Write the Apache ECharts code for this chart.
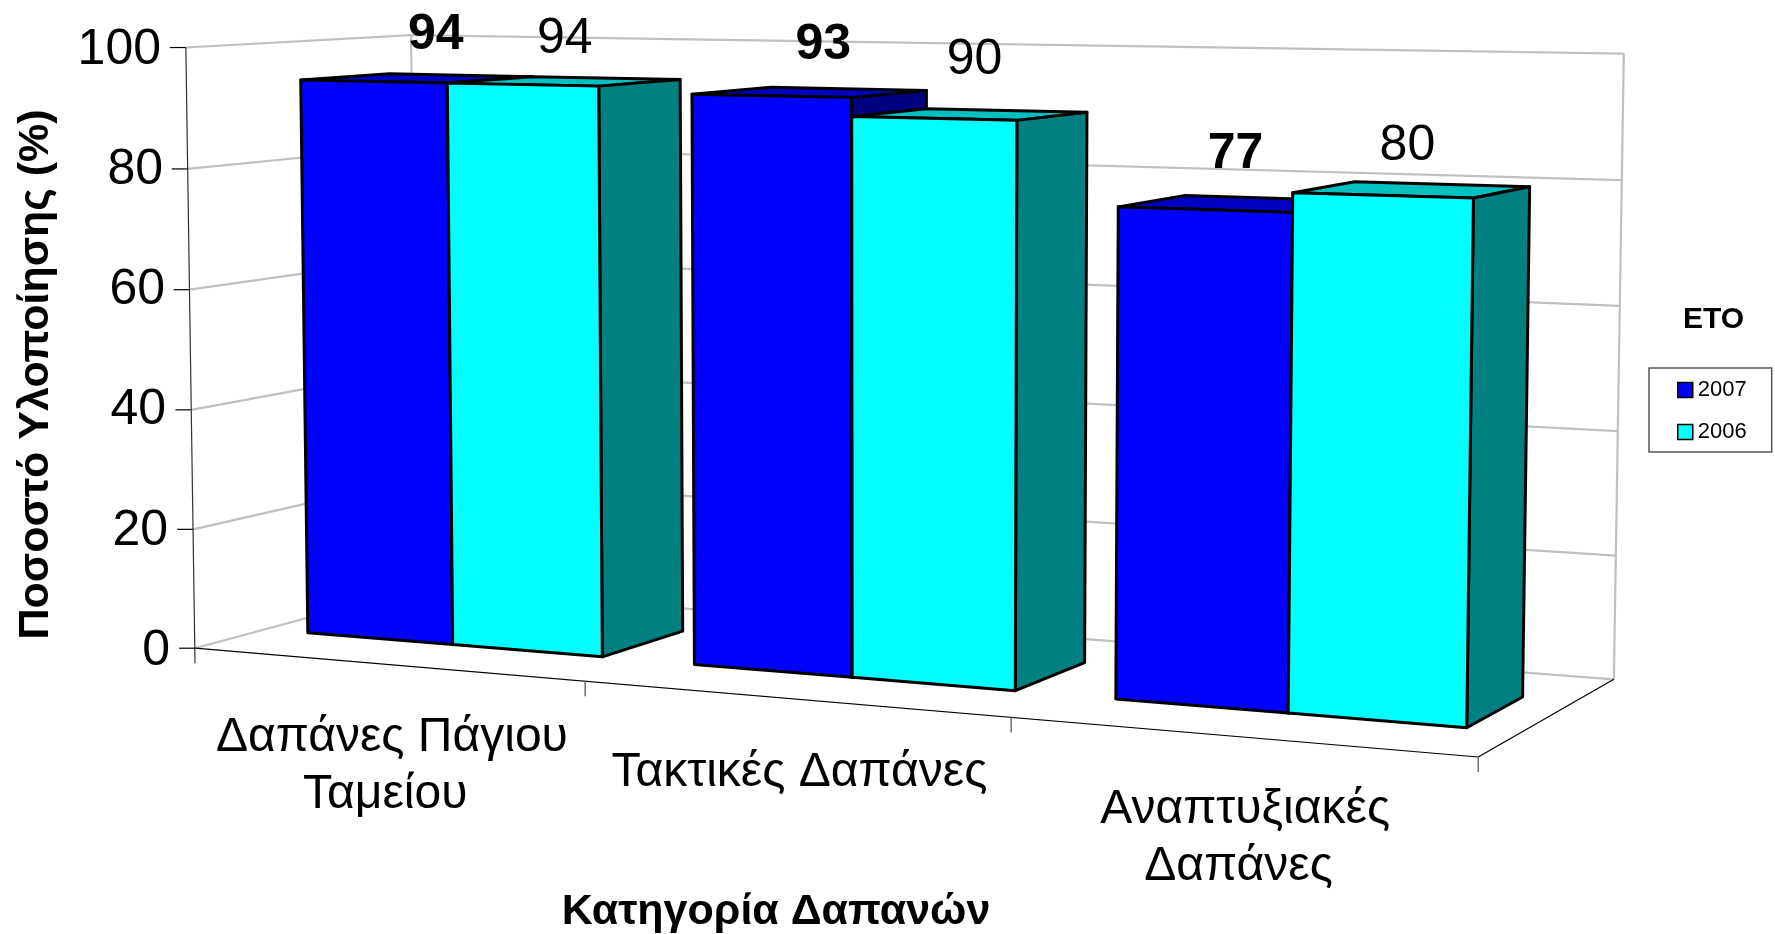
<!DOCTYPE html>
<html><head><meta charset="utf-8"><style>html,body{margin:0;background:#fff}#c{width:1775px;height:934px}</style>
<script src="https://cdn.jsdelivr.net/npm/echarts@6/dist/echarts.min.js"></script></head>
<body><div id="c"></div><script>
const categories = ['Δαπάνες Πάγιου\nΤαμείου ', 'Τακτικές Δαπάνες', 'Αναπτυξιακές\nΔαπάνες '];
const series2007 = [94, 93, 77];
const series2006 = [94, 90, 80];
const yTicks = [0, 20, 40, 60, 80, 100];
const labelNudge2007 = [[18, -43], [13, -47], [-2, -50]];
const labelNudge2006 = [[0, -42], [4, -54], [-5, -43]];

const FONT = '"Liberation Sans", Arial, sans-serif';
const grid = {left: 172, top: 47, width: 1208, height: 601};
// Camera: maps (u along categories, v value share, z depth) on to the page.
const cam = [1096.42, -11.5807, 257.725, 195.027, 13.1253, -601.315, -9.25821, 648.219, -0.12635, -0.0130107, 0.0862618];
const barHalf = 0.128224, zFront = 0.299074, zBack = 0.698536;
function project(u, v, z) {
  const w = cam[8] * u + cam[9] * v + cam[10] * z + 1;
  return [(cam[0] * u + cam[1] * v + cam[2] * z + cam[3]) / w, (cam[4] * u + cam[5] * v + cam[6] * z + cam[7]) / w];
}
const scaleU = (api, i) => (api.coord([i, 0])[0] - grid.left) / grid.width;
const scaleV = (api, val) => (grid.top + grid.height - api.coord([0, val])[1]) / grid.height;

function line(a, b, color, width) {
  return {type: 'line', shape: {x1: a[0], y1: a[1], x2: b[0], y2: b[1]}, style: {stroke: color, lineWidth: width}, silent: true};
}
const GRAY = '#c0c0c0', INK = '#000';

function wallsItem(params, api) {
  const v = scaleV(api, api.value(1));
  const kids = [
    line(project(0, v, 0), project(0, v, 1), GRAY, 2.2),
    line(project(0, v, 1), project(1, v, 1), GRAY, 2.2)
  ];
  const f = project(0, v, 0);
  kids.push(line([f[0] - 16, f[1]], f, INK, 1.2));
  return {type: 'group', children: kids};
}
function frameItem(params, api) {
  const top = scaleV(api, yTicks[yTicks.length - 1]);
  const kids = [
    line(project(0, 0, 1), project(0, top, 1), GRAY, 2.2),
    line(project(1, 0, 1), project(1, top, 1), GRAY, 2.2)
  ];
  return {type: 'group', children: kids};
}
function axesItem(params, api) {
  const top = scaleV(api, yTicks[yTicks.length - 1]);
  const n = categories.length, kids = [];
  const a = project(0, 0, 0);
  kids.push(line(project(0, top, 0), [a[0], a[1] + 15], '#333', 1.2));
  kids.push(line(a, project(1, 0, 0), INK, 1.2));
  kids.push(line(project(1, 0, 0), project(1, 0, 1), INK, 1.2));
  for (let i = 1; i <= n; i++) {
    const p = project(i / n, 0, 0);
    kids.push(line(p, [p[0], p[1] + 15], '#666', 1.4));
  }
  return {type: 'group', children: kids};
}
function catLabelItem(params, api) {
  const i = api.value(0), p = project(scaleU(api, i), 0, 0);
  return {type: 'text', silent: true, style: {text: categories[i], x: p[0] + 6, y: p[1] + 45, align: 'center', verticalAlign: 'top',
    font: '48px ' + FONT, lineHeight: 57, fill: '#000'}};
}
function barItem(side, shades, nudge, weight) {
  return function (params, api) {
    const i = api.value(0), val = api.value(1), c = scaleU(api, i), v = scaleV(api, val);
    const uL = side < 0 ? c - barHalf : c, uR = side < 0 ? c : c + barHalf;
    const st = fill => ({fill, stroke: '#000', lineWidth: 3, lineJoin: 'round'});
    const poly = (pts, fill) => ({type: 'polygon', shape: {points: pts}, style: st(fill), silent: true});
    const mid = project((uL + uR) / 2, v, (zFront + zBack) / 2), n = nudge[i];
    return {type: 'group', children: [
      poly([project(uL, v, zFront), project(uR, v, zFront), project(uR, v, zBack), project(uL, v, zBack)], shades[1]),
      poly([project(uR, v, zFront), project(uR, 0, zFront), project(uR, 0, zBack), project(uR, v, zBack)], shades[2]),
      poly([project(uL, v, zFront), project(uR, v, zFront), project(uR, 0, zFront), project(uL, 0, zFront)], shades[0]),
      {type: 'text', silent: true, z2: 50, style: {text: String(val), x: mid[0] + n[0], y: mid[1] + n[1], align: 'center', verticalAlign: 'middle',
        font: weight + ' 50px ' + FONT, fill: '#000'}}
    ]};
  };
}
const rich = {};
yTicks.forEach(t => {
  const pad = Math.round(project(0, 0, 0)[0] - project(0, t / 100, 0)[0]);
  rich['t' + t] = {fontSize: 50, fontFamily: FONT, color: '#000', padding: [6, pad, 0, 0]};
});
const pairs = a => a.map((v, i) => [i, v]);
const chart = echarts.init(document.getElementById('c'), null, {renderer: 'canvas'});
chart.setOption({
  animation: false,
  backgroundColor: '#fff',
  title: {text: 'ΕΤΟ', left: 1683, top: 305, textStyle: {fontFamily: FONT, fontWeight: 'bold', fontSize: 30, color: '#000'}, padding: 0},
  legend: {
    data: ['2007', '2006'], orient: 'vertical', left: 1649, top: 368,
    backgroundColor: '#fff', borderColor: '#555', borderWidth: 1.5, padding: [11, 25, 9, 28], itemGap: 20, itemWidth: 15, itemHeight: 15,
    icon: 'rect', itemStyle: {borderColor: '#000', borderWidth: 1.5}, textStyle: {fontFamily: FONT, fontSize: 22, color: '#000'}, selectedMode: false
  },
  grid: Object.assign({containLabel: false, outerBoundsMode: 'none'}, grid),
  xAxis: {type: 'category', data: categories, axisLine: {show: false}, axisTick: {show: false}, axisLabel: {show: false}, splitLine: {show: false},
    name: 'Κατηγορία Δαπανών', nameLocation: 'middle', nameGap: 243, nameTextStyle: {fontFamily: FONT, fontWeight: 'bold', fontSize: 43, color: '#000'}},
  yAxis: {type: 'value', min: 0, max: 100, interval: 20, axisLine: {show: false}, axisTick: {show: false}, splitLine: {show: false},
    axisLabel: {margin: 2, formatter: v => '{t' + v + '|' + v + '}', rich: rich},
    name: 'Ποσοστό Υλοποίησης (%)', nameLocation: 'middle', nameGap: 114, nameRotate: 90,
    nameTextStyle: {fontFamily: FONT, fontWeight: 'bold', fontSize: 43, color: '#000', padding: [0, 54, 0, 0]}},
  series: [
    {type: 'custom', name: 'walls', z: 1, silent: true, clip: false, data: yTicks.map(t => [0, t]), renderItem: wallsItem},
    {type: 'custom', name: 'frame', z: 1, silent: true, clip: false, data: [[0, 0]], renderItem: frameItem},
    {type: 'custom', name: 'axes', z: 2, silent: true, clip: false, data: [[0, 0]], renderItem: axesItem},
    {type: 'custom', name: 'categories', z: 2, silent: true, clip: false, data: categories.map((c, i) => [i, 0]), renderItem: catLabelItem},
    {type: 'custom', name: '2007', z: 3, clip: false, itemStyle: {color: '#0000ff'}, data: pairs(series2007), renderItem: barItem(-1, ['#0000ff', '#0000c0', '#000080'], labelNudge2007, 'bold')},
    {type: 'custom', name: '2006', z: 4, clip: false, itemStyle: {color: '#00ffff'}, data: pairs(series2006), renderItem: barItem(1, ['#00ffff', '#00c0c0', '#008080'], labelNudge2006, 'normal')}
  ]
});
</script></body></html>
